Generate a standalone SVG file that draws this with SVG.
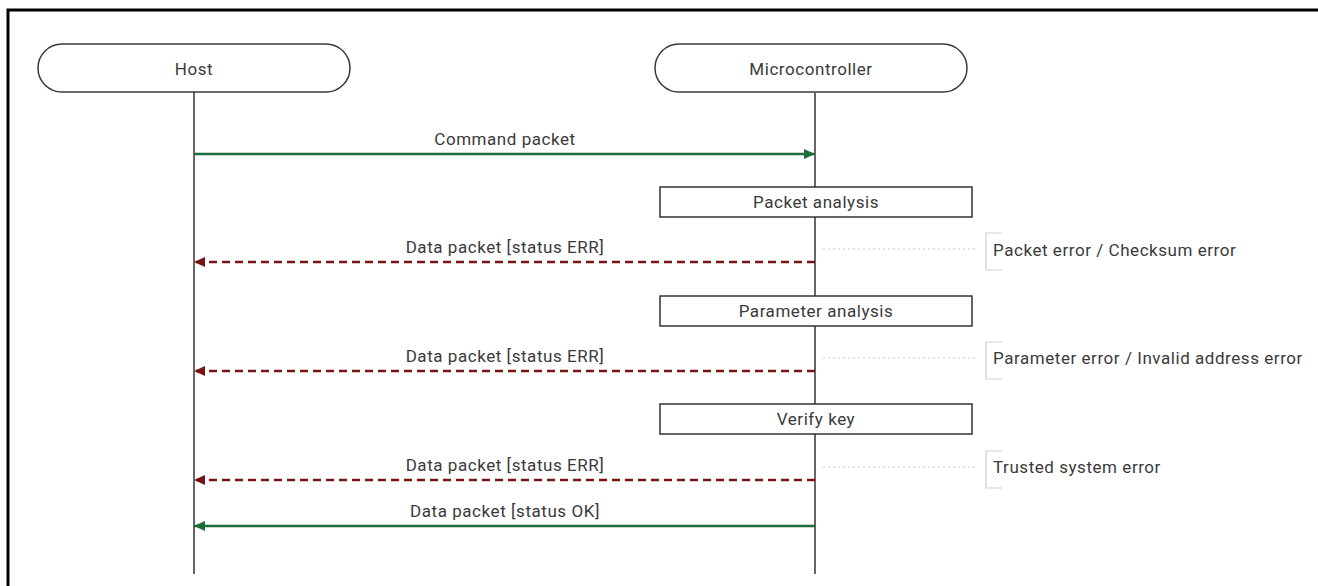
<svg xmlns="http://www.w3.org/2000/svg" width="1318" height="586" viewBox="0 0 1318 586">
<defs>
<style>
text{font-family:Roboto,"Liberation Sans",sans-serif;font-size:17px;fill:#3a3a3a;letter-spacing:0.55px}
.mid{text-anchor:middle}
.pill{fill:#fff;stroke:#3a3a3a;stroke-width:1.5}
.box{fill:#fff;stroke:#333;stroke-width:1.5}
.life{stroke:#333;stroke-width:1.5;fill:none}
.ok{stroke:#1e6b3a;stroke-width:2.5;fill:none}
.err{stroke:#7a1414;stroke-width:2.5;fill:none;stroke-dasharray:8 5}
.dot{stroke:#c8c8c8;stroke-width:1;stroke-dasharray:2 3;fill:none}
.brk{stroke:#cfcfcf;stroke-width:1.2;fill:none}
</style>
<marker id="aok" markerWidth="11" markerHeight="10" refX="11" refY="5" orient="auto" markerUnits="userSpaceOnUse"><path d="M0,0 L11,5 L0,10 Z" fill="#1e6b3a"/></marker>
<marker id="aerr" markerWidth="11" markerHeight="10" refX="11" refY="5" orient="auto" markerUnits="userSpaceOnUse"><path d="M0,0 L11,5 L0,10 Z" fill="#7a1414"/></marker>
</defs>
<rect width="1318" height="586" fill="#fff"/>
<path d="M8,586 L8,10 L1318,10" fill="none" stroke="#000" stroke-width="3"/>
<g id="host">
<line class="life" x1="194" y1="92" x2="194" y2="574"/>
<rect class="pill" x="38" y="44" width="312" height="48" rx="24"/>
<text class="mid" x="194" y="75">Host</text>
</g>
<g id="microcontroller">
<line class="life" x1="815" y1="93" x2="815" y2="574"/>
<rect class="pill" x="655" y="44" width="312" height="48" rx="24"/>
<text class="mid" x="811" y="75">Microcontroller</text>
</g>
<g id="packet-analysis">
<rect class="box" x="660" y="187" width="312" height="30"/>
<text class="mid" x="816" y="208">Packet analysis</text>
</g>
<g id="parameter-analysis">
<rect class="box" x="660" y="296" width="312" height="30"/>
<text class="mid" x="816" y="317">Parameter analysis</text>
</g>
<g id="verify-key">
<rect class="box" x="660" y="404" width="312" height="30"/>
<text class="mid" x="816" y="425">Verify key</text>
</g>
<g id="note-1">
<line class="dot" x1="823" y1="249" x2="978" y2="249"/>
<path class="brk" d="M1002,233 L986,233 L986,270 L1002,270"/>
<text x="993" y="256">Packet error / Checksum error</text>
</g>
<g id="note-2">
<line class="dot" x1="823" y1="358" x2="978" y2="358"/>
<path class="brk" d="M1002,342 L986,342 L986,379 L1002,379"/>
<text x="993" y="364">Parameter error / Invalid address error</text>
</g>
<g id="note-3">
<line class="dot" x1="823" y1="467" x2="978" y2="467"/>
<path class="brk" d="M1002,451 L986,451 L986,488 L1002,488"/>
<text x="993" y="473">Trusted system error</text>
</g>
<g id="connectors">
<line class="ok" x1="194" y1="154" x2="815" y2="154" marker-end="url(#aok)"/>
<text class="mid" x="505" y="145">Command packet</text>
<line class="err" x1="815" y1="262" x2="194" y2="262" marker-end="url(#aerr)"/>
<text class="mid" x="505" y="253">Data packet [status ERR]</text>
<line class="err" x1="815" y1="371" x2="194" y2="371" marker-end="url(#aerr)"/>
<text class="mid" x="505" y="362">Data packet [status ERR]</text>
<line class="err" x1="815" y1="480" x2="194" y2="480" marker-end="url(#aerr)"/>
<text class="mid" x="505" y="471">Data packet [status ERR]</text>
<line class="ok" x1="815" y1="526" x2="194" y2="526" marker-end="url(#aok)"/>
<text class="mid" x="505" y="517">Data packet [status OK]</text>
</g>
</svg>
